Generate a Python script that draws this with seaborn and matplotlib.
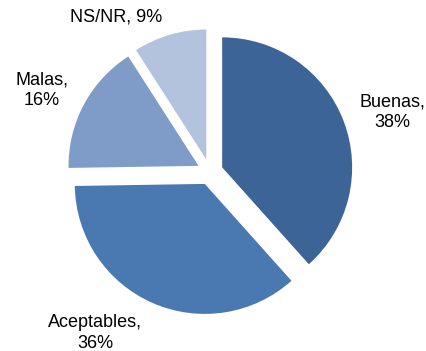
import matplotlib.pyplot as plt
import seaborn as sns

categories = ["Buenas", "Aceptables", "Malas", "NS/NR"]
percentages = [38, 36, 16, 9]
colors = ["#3D6496", "#4A78B0", "#7F9BC8", "#B4C3DD"]

sns.set_theme(style="white")
plt.rcParams["font.family"] = ["Liberation Sans", "DejaVu Sans"]

fig = plt.figure(figsize=(4.27, 3.51), dpi=100)
ax = fig.add_axes([0, 0, 1, 1])

# one data unit = pie radius (130 px); centre sits at (210, 172) px from top-left
R = 130.0
cx, cy = 210.0, 172.0
W, H = 427.0, 351.0

ax.pie(
    percentages,
    colors=colors,
    startangle=90,
    counterclock=False,
    explode=[0.1] * len(percentages),
    radius=1.0,
    wedgeprops={"linewidth": 0},
)
ax.set_xlim(-cx / R, (W - cx) / R)
ax.set_ylim(-(H - cy) / R, cy / R)
ax.set_aspect("equal")
ax.axis("off")

# label anchor points in pixels (centre of text block)
label_px = [(392, 112), (95, 333), (42, 90), (116, 17)]
for name, pct, (px, py) in zip(categories, percentages, label_px):
    sep = " " if name == "NS/NR" else "\n"
    ax.text(
        (px - cx) / R,
        (cy - py) / R,
        f"{name},{sep}{pct}%",
        ha="center",
        va="center",
        multialignment="center",
        fontsize=13,
        color="black",
        linespacing=1.3,
    )

fig.savefig("out.png", dpi=100, facecolor="white")
